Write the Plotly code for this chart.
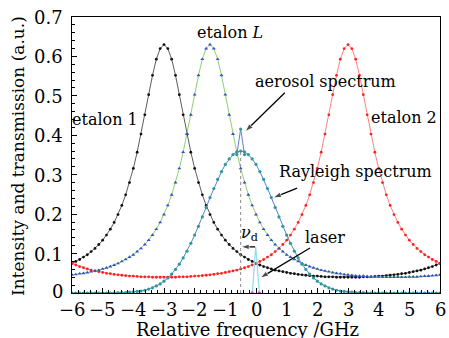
import numpy as np
import plotly.graph_objects as go

# ---------------- data ----------------
freq = np.linspace(-6, 6, 97)  # relative frequency grid, GHz

etalon1 = [0.075,0.080,0.085,0.091,0.097,0.105,0.113,0.123,0.134,0.147,0.162,0.179,0.199,0.222,0.249,0.280,0.316,0.357,0.403,0.452,0.503,0.552,0.593,0.620,0.630,
           0.620,0.593,0.552,0.503,0.452,0.403,0.357,0.316,0.280,0.249,0.222,0.199,0.179,0.162,0.147,0.134,0.123,0.113,0.105,0.097,0.091,0.085,0.080,0.075,0.071,0.067,0.064,0.061,0.058,0.056,0.054,0.052,0.050,0.049,0.047,0.046,0.045,0.044,0.043,0.043,0.042,0.041,0.041,0.041,0.040,0.040,0.040,0.040,
           0.040,0.040,0.040,0.041,0.041,0.041,0.042,0.043,0.043,0.044,0.045,0.046,0.047,0.049,0.050,0.052,0.054,0.056,0.058,0.061,0.064,0.067,0.071,0.075]

etalon2 = [0.075,0.071,0.067,0.064,0.061,0.058,0.056,0.054,0.052,0.050,0.049,0.047,0.046,0.045,0.044,0.043,0.043,0.042,0.041,0.041,0.041,0.040,0.040,0.040,0.040,
           0.040,0.040,0.040,0.041,0.041,0.041,0.042,0.043,0.043,0.044,0.045,0.046,0.047,0.049,0.050,0.052,0.054,0.056,0.058,0.061,0.064,0.067,0.071,0.075,0.080,0.085,0.091,0.097,0.105,0.113,0.123,0.134,0.147,0.162,0.179,0.199,0.222,0.249,0.280,0.316,0.357,0.403,0.452,0.503,0.552,0.593,0.620,0.630,
           0.620,0.593,0.552,0.503,0.452,0.403,0.357,0.316,0.280,0.249,0.222,0.199,0.179,0.162,0.147,0.134,0.123,0.113,0.105,0.097,0.091,0.085,0.080,0.075]

etalonL = [0.046,0.047,0.049,0.050,0.052,0.054,0.056,0.058,0.061,0.064,0.067,0.071,0.075,0.080,0.085,0.091,0.097,0.105,0.113,0.123,0.134,0.147,0.162,0.179,0.199,0.222,0.249,0.280,0.316,0.357,0.403,0.452,0.503,0.552,0.593,0.620,0.630,
           0.620,0.593,0.552,0.503,0.452,0.403,0.357,0.316,0.280,0.249,0.222,0.199,0.179,0.162,0.147,0.134,0.123,0.113,0.105,0.097,0.091,0.085,0.080,0.075,0.071,0.067,0.064,0.061,0.058,0.056,0.054,0.052,0.050,0.049,0.047,0.046,0.045,0.044,0.043,0.043,0.042,0.041,0.041,0.041,0.040,0.040,0.040,0.040,
           0.040,0.040,0.040,0.041,0.041,0.041,0.042,0.043,0.043,0.044,0.045,0.046]

rayleigh = [0,0,0,0,0,0,0,0,0,0,0,0,
            0.001,0.001,0.001,0.002,0.003,0.004,0.005,0.007,0.010,0.013,0.018,0.023,0.030,0.038,0.048,0.060,0.073,0.089,0.106,0.126,0.147,0.169,0.193,0.217,0.242,0.265,0.288,0.308,0.326,0.340,0.351,0.358,0.360,
            0.358,0.351,0.340,0.326,0.308,0.288,0.265,0.242,0.217,0.193,0.169,0.147,0.126,0.106,0.089,0.073,0.060,0.048,0.038,0.030,0.023,0.018,0.013,0.010,0.007,0.005,0.004,0.003,0.002,0.001,0.001,0.001,
            0,0,0,0,0,0,0,0,0,0,0,0,0,0,0,0,0,0,0,0]

aerosol_freq = [-0.625, -0.5, -0.375]
aerosol = [0.351, 0.416, 0.351]
aerosol_center = -0.5
aerosol_base = 0.36

laser_freq = [-0.12, -0.01, 0.11]
laser = [0.0, 0.117, 0.0]

x_ticks = [-6, -5, -4, -3, -2, -1, 0, 1, 2, 3, 4, 5, 6]
x_ticktext = ["\u22126", "\u22125", "\u22124", "\u22123", "\u22122", "\u22121", "0", "1", "2", "3", "4", "5", "6"]
y_ticks = [0, 0.1, 0.2, 0.3, 0.4, 0.5, 0.6, 0.7]
y_ticktext = ["0", "0.1", "0.2", "0.3", "0.4", "0.5", "0.6", "0.7"]

# label texts and their anchor positions (data units)
labels = [
    ("etalon 1", -4.92, 0.439),
    ("etalon <i>L</i>", -0.85, 0.660),
    ("aerosol spectrum", 2.28, 0.536),
    ("Rayleigh spectrum", 3.23, 0.307),
    ("laser", 2.25, 0.142),
    ("etalon 2", 4.83, 0.444),
    ("<i>ν</i><sub>d</sub>", -0.2, 0.150),
]
# pointer arrows: (tail x, tail y, head x, head y)
arrows = [
    (0.94, 0.508, -0.36, 0.409),
    (1.34, 0.266, 0.55, 0.241),
    (1.76, 0.114, 0.13, 0.038),
    (-0.03, 0.117, aerosol_center, 0.117),
]

FONT = "DejaVu Serif"

fig = go.Figure()
fig.add_trace(go.Scatter(x=freq, y=etalon1, mode="lines+markers",
                         line=dict(color="#333333", width=0.8),
                         marker=dict(color="#111111", size=2.8)))
fig.add_trace(go.Scatter(x=freq, y=etalon2, mode="lines+markers",
                         line=dict(color="#ff6060", width=0.8),
                         marker=dict(color="#ff2020", size=2.8)))
fig.add_trace(go.Scatter(x=freq, y=etalonL, mode="lines+markers",
                         line=dict(color="#8fd070", width=1),
                         marker=dict(color="#3050c8", size=3.5, symbol="triangle-up")))
fig.add_trace(go.Scatter(x=freq, y=rayleigh, mode="lines+markers",
                         line=dict(color="#5a7fd0", width=1),
                         marker=dict(color="#2a9a9a", size=3.2)))
fig.add_trace(go.Scatter(x=aerosol_freq, y=aerosol, mode="lines+markers",
                         line=dict(color="#5a7fd0", width=1),
                         marker=dict(color="#2a9a9a", size=3.2)))
fig.add_trace(go.Scatter(x=[aerosol_center, aerosol_center], y=[0, aerosol_base], mode="lines",
                         line=dict(color="#8a8a8a", width=1, dash="dot")))
fig.add_trace(go.Scatter(x=laser_freq, y=laser, mode="lines",
                         line=dict(color="#8fdcec", width=1.2)))
fig.add_trace(go.Scatter(x=[laser_freq[0], laser_freq[-1]], y=[laser[0], laser[-1]], mode="markers",
                         marker=dict(color="#e040e0", size=3.5)))

for tx, ty, hx, hy in arrows:
    fig.add_trace(go.Scatter(x=[tx, hx], y=[ty, hy], mode="lines+markers",
                             line=dict(color="black", width=1.3),
                             marker=dict(symbol="arrow", angleref="previous", size=[0, 9],
                                         color="black")))

ann_font = dict(family=FONT, size=16, color="black")
for t, x, y in labels:
    fig.add_annotation(x=x, y=y, text=t, showarrow=False, font=ann_font,
                       xanchor="center", yanchor="middle")

# tick labels as annotations for exact placement
tick_font = dict(family=FONT, size=18, color="black")
for v, t in zip(x_ticks, x_ticktext):
    fig.add_annotation(x=v, y=0, xref="x", yref="paper", text=t, showarrow=False,
                       font=tick_font, xanchor="center", yanchor="middle", yshift=-16,
                       height=16, borderpad=0, valign="middle")
for v, t in zip(y_ticks, y_ticktext):
    fig.add_annotation(x=0, y=v, xref="paper", yref="y", text=t, showarrow=False,
                       font=tick_font, xanchor="right", yanchor="middle", xshift=-8,
                       yshift=(2 if v == 0 else 0),
                       height=16, borderpad=0, valign="middle")

# axis titles placed as annotations (paper coords)
fig.add_annotation(x=0.478, y=-0.133, xref="paper", yref="paper", text="Relative frequency /GHz",
                   showarrow=False, font=dict(family=FONT, size=18), xanchor="center", yanchor="middle",
                   height=17, borderpad=0, valign="middle")
fig.add_annotation(x=-0.147, y=0.496, xref="paper", yref="paper", text="Intensity and transmission (a.u.)",
                   showarrow=False, textangle=-90, font=dict(family=FONT, size=17),
                   xanchor="center", yanchor="middle")

fig.update_layout(
    width=449, height=338,
    margin=dict(l=72, r=9, t=17, b=45),
    paper_bgcolor="white", plot_bgcolor="white",
    showlegend=False,
    font=dict(family=FONT, size=18, color="black"),
)
fig.update_xaxes(
    range=[-6, 6], tickvals=x_ticks, ticks="inside", ticklen=5, tickwidth=1, tickcolor="black",
    minor=dict(dtick=0.2, ticks="inside", ticklen=3, tickcolor="black"),
    showline=True, linecolor="black", linewidth=1.3, mirror=True,
    showgrid=False, zeroline=False, automargin=False, showticklabels=False,
)
fig.update_yaxes(
    range=[0, 0.7], tickvals=y_ticks, ticks="inside", ticklen=5, tickwidth=1,
    tickcolor="black",
    minor=dict(dtick=0.02, ticks="inside", ticklen=3, tickcolor="black"),
    showline=True, linecolor="black", linewidth=1.3, mirror=True,
    showgrid=False, zeroline=False, automargin=False, showticklabels=False,
)

fig.write_html("out.html", config={"displayModeBar": False},
               post_script="document.body.style.margin='0';")
